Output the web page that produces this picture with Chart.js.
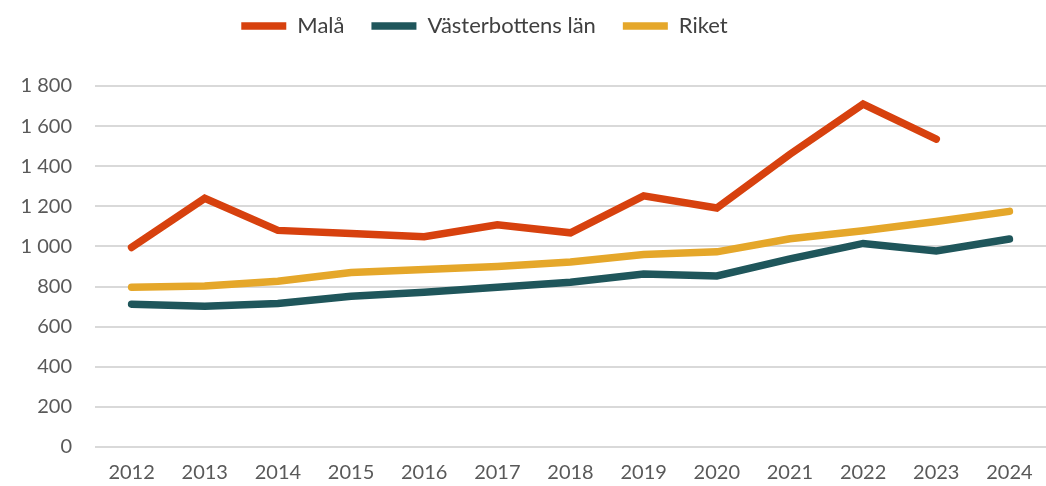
<!DOCTYPE html>
<html>
<head>
<meta charset="utf-8">
<script src="https://cdn.jsdelivr.net/npm/chart.js@4"></script>
<style>
  html, body { margin: 0; padding: 0; background: #fff; }
  #wrap { width: 1046px; height: 486px; }
</style>
</head>
<body>
<div id="wrap"><canvas id="chart"></canvas></div>
<script>
// Data
const years = ['2012', '2013', '2014', '2015', '2016', '2017', '2018', '2019', '2020', '2021', '2022', '2023', '2024'];
const mala = [995, 1240, 1080, 1065, 1048, 1108, 1068, 1252, 1192, 1460, 1710, 1535, null];
const vasterbotten = [712, 702, 716, 752, 772, 797, 822, 862, 853, 938, 1015, 978, 1037];
const riket = [797, 803, 826, 870, 885, 900, 922, 960, 973, 1038, 1078, 1124, 1175];
const yTicks = [0, 200, 400, 600, 800, 1000, 1200, 1400, 1600, 1800];

const fontFamily = 'Lato, "Open Sans", sans-serif';

function fmt(v) {
  return String(v).replace(/\B(?=(\d{3})+(?!\d))/g, ' ');
}

function series(label, data, color) {
  return {
    label: label,
    data: data,
    borderColor: color,
    backgroundColor: color,
    borderWidth: 7.5,
    borderCapStyle: 'round',
    borderJoinStyle: 'miter',
    pointRadius: 0,
    pointHoverRadius: 0,
    tension: 0,
    spanGaps: false
  };
}

// legend sits a bit left of centre and leaves room above the plot
const legendTweak = {
  id: 'legendTweak',
  beforeInit(chart) {
    const legend = chart.legend;
    if (!legend) return;
    const fit = legend.fit.bind(legend);
    legend.fit = function() {
      fit();
      this.height = 98;
    };
    const draw = legend.draw.bind(legend);
    legend.draw = function() {
      const c = chart.ctx;
      c.save();
      c.translate(-44, 0);
      draw();
      c.restore();
    };
  }
};

const ctx = document.getElementById('chart').getContext('2d');
new Chart(ctx, {
  type: 'line',
  data: {
    labels: years,
    datasets: [
      series('Malå', mala, '#d7410e'),
      series('Västerbottens län', vasterbotten, '#1f565b'),
      series('Riket', riket, '#e5a72a')
    ]
  },
  options: {
    responsive: true,
    maintainAspectRatio: false,
    animation: false,
    layout: {
      padding: { top: -12, right: -11, bottom: -5, left: 0 }
    },
    plugins: {
      legend: {
        position: 'top',
        labels: {
          usePointStyle: true,
          pointStyle: 'line',
          pointStyleWidth: 45,
          boxHeight: 20,
          padding: 27,
          color: '#404040',
          font: { family: fontFamily, size: 22 }
        }
      },
      tooltip: { enabled: false }
    },
    scales: {
      x: {
        offset: true,
        grid: { display: false },
        border: { display: false },
        ticks: {
          color: '#595959',
          padding: 6,
          maxRotation: 0,
          font: { family: fontFamily, size: 20 }
        }
      },
      y: {
        min: 0,
        max: 1800,
        afterFit: function(axis) { axis.width = 95; },
        afterBuildTicks: function(axis) {
          axis.ticks = yTicks.map(v => ({ value: v }));
        },
        grid: {
          color: '#d9d9d9',
          lineWidth: 2,
          drawTicks: false
        },
        border: { display: false },
        ticks: {
          color: '#595959',
          padding: 23,
          font: { family: fontFamily, size: 20 },
          callback: function(value) { return fmt(value); }
        }
      }
    }
  },
  plugins: [legendTweak]
});
</script>
</body>
</html>
